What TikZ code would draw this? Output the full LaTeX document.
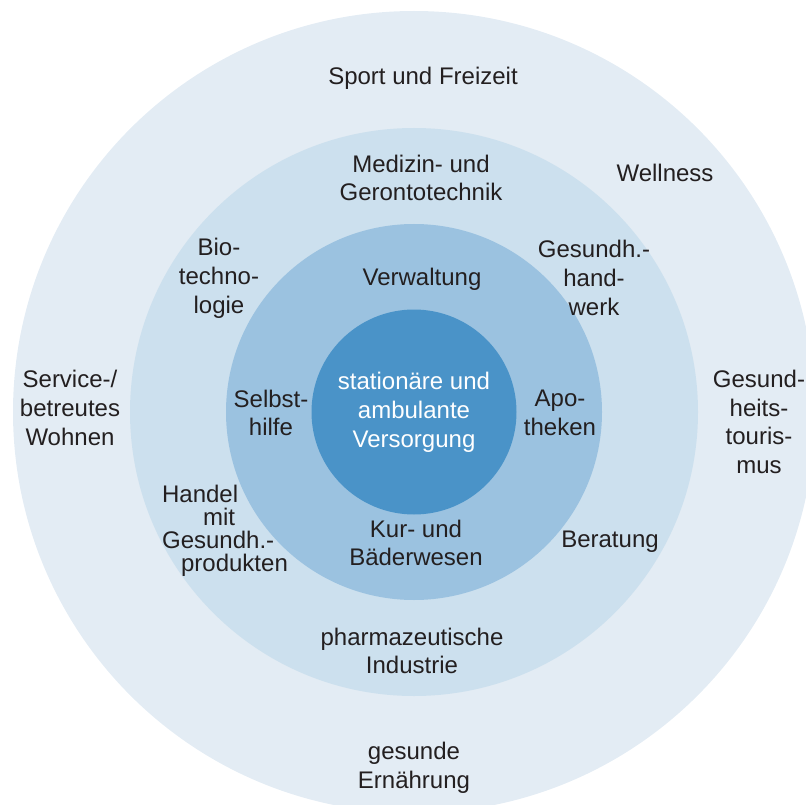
\documentclass[tikz,border=0pt]{standalone}
\usepackage{fontspec}
\setmainfont{Liberation Sans}
\usetikzlibrary{positioning}

\definecolor{ringout}{HTML}{E3ECF4}
\definecolor{ringthree}{HTML}{CCE0EE}
\definecolor{ringtwo}{HTML}{9BC2E0}
\definecolor{ringin}{HTML}{4A93C8}
\definecolor{txt}{HTML}{231F20}

\tikzset{
  lbl/.style={align=center,text=txt,inner sep=0pt,yshift=-2pt,font=\fontsize{24}{28.8}\selectfont},
}

\begin{document}
\begin{tikzpicture}[x=1pt,y=-1pt]
  \useasboundingbox (0,0) rectangle (806,805);
  \clip (0,0) rectangle (806,805);
  \coordinate (c) at (414,412);
  % rings from outside in
  \fill[ringout] (c) circle[radius=401pt];
  \fill[ringthree] (c) circle[radius=284pt];
  \fill[ringtwo] (c) circle[radius=188pt];
  \fill[ringin] (c) circle[radius=102.5pt];
  % outer ring
  \node[lbl] (sport) at (423,76) {Sport und Freizeit};
  \node[lbl] (wellness) at (665,171) {Wellness};
  \node[lbl] (service) at (70,406) {Service-/\\betreutes\\Wohnen};
  \node[lbl] (tourismus) at (759,420) {Gesund-\\heits-\\touris-\\mus};
  \node[lbl] (ernaehrung) at (414,766) {gesunde\\Ernährung};
  % third ring
  \node[lbl] (medizin) at (421,176) {Medizin- und\\Gerontotechnik};
  \node[lbl] (bio) at (219,276) {Bio-\\techno-\\logie};
  \node[lbl] (handwerk) at (594,276) {Gesundh.-\\hand-\\werk};
  \node[lbl,align=left] (handel) at (225,529) {Handel\\[-5.8pt]\hspace*{41pt}mit\\[-5.8pt]Gesundh.-\\[-5.8pt]\hspace*{19pt}produkten};
  \node[lbl] (beratung) at (610,540) {Beratung};
  \node[lbl] (pharma) at (412,649) {pharmazeutische\\Industrie};
  % second ring
  \node[lbl] (verwaltung) at (422,277) {Verwaltung};
  \node[lbl] (selbsthilfe) at (271,411) {Selbst-\\hilfe};
  \node[lbl] (apotheken) at (560,411) {Apo-\\theken};
  \node[lbl] (kur) at (416,541) {Kur- und\\Bäderwesen};
  % centre
  \node[lbl,text=white] (versorgung) at (414,410) {stationäre und\\ambulante\\Versorgung};
\end{tikzpicture}
\end{document}
